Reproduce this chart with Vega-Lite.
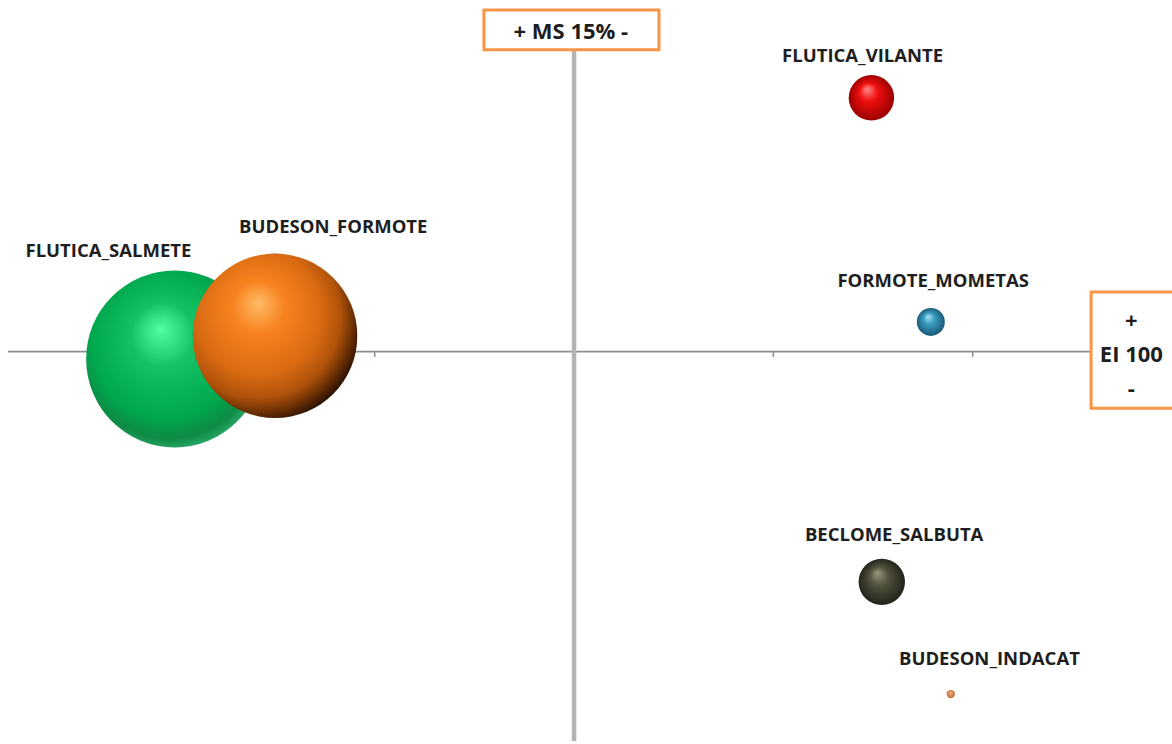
{
  "$schema": "https://vega.github.io/schema/vega-lite/v6.json",
  "autosize": {"type": "fit", "contains": "padding"},
  "width": 1172,
  "height": 744,
  "padding": 0,
  "background": "white",
  "config": {"view": {"stroke": null}},
  "datasets": {
    "bubbles": [
      {"name": "FLUTICA_SALMETE", "ms": 25.02, "ei": 98.95, "vol": 31.3, "lx": 26.68, "ly": 114.3},
      {"name": "BUDESON_FORMOTE", "ms": 22.50, "ei": 102.24, "vol": 27.06, "lx": 21.04, "ly": 117.7},
      {"name": "FLUTICA_VILANTE", "ms": 7.54, "ei": 136.09, "vol": 2.07, "lx": 7.76, "ly": 142.1},
      {"name": "FORMOTE_MOMETAS", "ms": 6.05, "ei": 104.21, "vol": 0.78, "lx": 5.99, "ly": 110.0},
      {"name": "BECLOME_SALBUTA", "ms": 7.28, "ei": 67.25, "vol": 2.16, "lx": 6.97, "ly": 73.9},
      {"name": "BUDESON_INDACAT", "ms": 5.55, "ei": 51.30, "vol": 0.069, "lx": 4.58, "ly": 56.3}
    ],
    "frames": [
      {"label": "+ MS 15% -", "x1": 17.26, "x2": 12.87, "y1": 148.58, "y2": 142.92, "tx": 15.08, "ty": 145.5},
      {"label": "+\nEI 100\n-", "x1": 2.03, "x2": -0.6, "y1": 108.46, "y2": 91.93, "tx": 1.02, "ty": 104.3}
    ],
    "lines": [
      {"part": "h", "x1": 29.2, "x2": 2.055, "y1": 100, "y2": 100},
      {"part": "v", "x1": 15, "x2": 15, "y1": 142.92, "y2": 44.62}
    ],
    "ticks": [{"t": 5}, {"t": 10}, {"t": 20}, {"t": 25}]
  },
  "layer": [
    {
      "data": {"name": "lines"},
      "transform": [{"filter": {"field": "part", "equal": "h"}}],
      "mark": {"type": "rule", "stroke": "#8e8e8e", "strokeWidth": 1.75},
      "encoding": {
        "x": {"field": "x1", "type": "quantitative", "scale": {"domain": [0, 29.4], "reverse": true, "nice": false, "zero": false}, "axis": null},
        "x2": {"field": "x2"},
        "y": {"field": "y1", "type": "quantitative", "scale": {"domain": [44.62, 150], "nice": false, "zero": false}, "axis": null},
        "y2": {"field": "y2"}
      }
    },
    {
      "data": {"name": "ticks"},
      "mark": {"type": "rule", "stroke": "#8e8e8e", "strokeWidth": 1.5},
      "encoding": {
        "x": {"field": "t", "type": "quantitative", "scale": {"domain": [0, 29.4], "reverse": true, "nice": false, "zero": false}, "axis": null},
        "y": {"datum": 100, "type": "quantitative", "scale": {"domain": [44.62, 150], "nice": false, "zero": false}, "axis": null},
        "y2": {"datum": 99.25}
      }
    },
    {
      "data": {"name": "lines"},
      "transform": [{"filter": {"field": "part", "equal": "v"}}],
      "mark": {"type": "rule", "stroke": "#b4b4b4", "strokeWidth": 4.5},
      "encoding": {
        "x": {"field": "x1", "type": "quantitative", "scale": {"domain": [0, 29.4], "reverse": true, "nice": false, "zero": false}, "axis": null},
        "x2": {"field": "x2"},
        "y": {"field": "y1", "type": "quantitative", "scale": {"domain": [44.62, 150], "nice": false, "zero": false}, "axis": null},
        "y2": {"field": "y2"}
      }
    },
    {
      "data": {"name": "bubbles"},
      "transform": [{"filter": {"field": "name", "equal": "FLUTICA_SALMETE"}}],
      "mark": {"type": "point", "shape": "circle", "filled": true, "opacity": 1, "strokeWidth": 0,
        "fill": {"gradient": "radial", "x1": 0.42, "y1": 0.33, "r1": 0, "x2": 0.47, "y2": 0.45, "r2": 0.6,
          "stops": [{"offset": 0, "color": "#55ffa0"}, {"offset": 0.3, "color": "#14c265"}, {"offset": 0.7, "color": "#00a84e"}, {"offset": 0.86, "color": "#0e8a46"}, {"offset": 0.95, "color": "#2aa868"}, {"offset": 1, "color": "#2aa868"}]}},
      "encoding": {
        "x": {"field": "ms", "type": "quantitative", "scale": {"domain": [0, 29.4], "reverse": true, "nice": false, "zero": false}, "axis": null},
        "y": {"field": "ei", "type": "quantitative", "scale": {"domain": [44.62, 150], "nice": false, "zero": false}, "axis": null},
        "size": {"field": "vol", "type": "quantitative", "scale": {"type": "linear", "domain": [0, 40], "range": [0, 40000], "zero": true}, "legend": null}
      }
    },
    {
      "data": {"name": "bubbles"},
      "transform": [{"filter": {"field": "name", "equal": "BUDESON_FORMOTE"}}],
      "mark": {"type": "point", "shape": "circle", "filled": true, "opacity": 1, "strokeWidth": 0,
        "fill": {"gradient": "radial", "x1": 0.4, "y1": 0.3, "r1": 0, "x2": 0.4, "y2": 0.4, "r2": 0.64,
          "stops": [{"offset": 0, "color": "#ffbb66"}, {"offset": 0.25, "color": "#f7821f"}, {"offset": 0.6, "color": "#d86a12"}, {"offset": 0.78, "color": "#b0520a"}, {"offset": 0.9, "color": "#6a3004"}, {"offset": 1, "color": "#2a1000"}]}},
      "encoding": {
        "x": {"field": "ms", "type": "quantitative", "scale": {"domain": [0, 29.4], "reverse": true, "nice": false, "zero": false}, "axis": null},
        "y": {"field": "ei", "type": "quantitative", "scale": {"domain": [44.62, 150], "nice": false, "zero": false}, "axis": null},
        "size": {"field": "vol", "type": "quantitative", "scale": {"type": "linear", "domain": [0, 40], "range": [0, 40000], "zero": true}, "legend": null}
      }
    },
    {
      "data": {"name": "bubbles"},
      "transform": [{"filter": {"field": "name", "equal": "FLUTICA_VILANTE"}}],
      "mark": {"type": "point", "shape": "circle", "filled": true, "opacity": 1, "strokeWidth": 0,
        "fill": {"gradient": "radial", "x1": 0.4, "y1": 0.3, "r1": 0, "x2": 0.5, "y2": 0.5, "r2": 0.5,
          "stops": [{"offset": 0, "color": "#ff8a8a"}, {"offset": 0.4, "color": "#f01010"}, {"offset": 1, "color": "#9a0000"}]}},
      "encoding": {
        "x": {"field": "ms", "type": "quantitative", "scale": {"domain": [0, 29.4], "reverse": true, "nice": false, "zero": false}, "axis": null},
        "y": {"field": "ei", "type": "quantitative", "scale": {"domain": [44.62, 150], "nice": false, "zero": false}, "axis": null},
        "size": {"field": "vol", "type": "quantitative", "scale": {"type": "linear", "domain": [0, 40], "range": [0, 40000], "zero": true}, "legend": null}
      }
    },
    {
      "data": {"name": "bubbles"},
      "transform": [{"filter": {"field": "name", "equal": "FORMOTE_MOMETAS"}}],
      "mark": {"type": "point", "shape": "circle", "filled": true, "opacity": 1, "strokeWidth": 0,
        "fill": {"gradient": "radial", "x1": 0.4, "y1": 0.3, "r1": 0, "x2": 0.5, "y2": 0.5, "r2": 0.5,
          "stops": [{"offset": 0, "color": "#a8e4f4"}, {"offset": 0.4, "color": "#3a9cc0"}, {"offset": 1, "color": "#1a5a78"}]}},
      "encoding": {
        "x": {"field": "ms", "type": "quantitative", "scale": {"domain": [0, 29.4], "reverse": true, "nice": false, "zero": false}, "axis": null},
        "y": {"field": "ei", "type": "quantitative", "scale": {"domain": [44.62, 150], "nice": false, "zero": false}, "axis": null},
        "size": {"field": "vol", "type": "quantitative", "scale": {"type": "linear", "domain": [0, 40], "range": [0, 40000], "zero": true}, "legend": null}
      }
    },
    {
      "data": {"name": "bubbles"},
      "transform": [{"filter": {"field": "name", "equal": "BECLOME_SALBUTA"}}],
      "mark": {"type": "point", "shape": "circle", "filled": true, "opacity": 1, "strokeWidth": 0,
        "fill": {"gradient": "radial", "x1": 0.4, "y1": 0.3, "r1": 0, "x2": 0.5, "y2": 0.5, "r2": 0.5,
          "stops": [{"offset": 0, "color": "#9a9a80"}, {"offset": 0.4, "color": "#52523e"}, {"offset": 1, "color": "#23231a"}]}},
      "encoding": {
        "x": {"field": "ms", "type": "quantitative", "scale": {"domain": [0, 29.4], "reverse": true, "nice": false, "zero": false}, "axis": null},
        "y": {"field": "ei", "type": "quantitative", "scale": {"domain": [44.62, 150], "nice": false, "zero": false}, "axis": null},
        "size": {"field": "vol", "type": "quantitative", "scale": {"type": "linear", "domain": [0, 40], "range": [0, 40000], "zero": true}, "legend": null}
      }
    },
    {
      "data": {"name": "bubbles"},
      "transform": [{"filter": {"field": "name", "equal": "BUDESON_INDACAT"}}],
      "mark": {"type": "point", "shape": "circle", "filled": true, "opacity": 1, "strokeWidth": 0,
        "fill": {"gradient": "radial", "x1": 0.4, "y1": 0.3, "r1": 0, "x2": 0.5, "y2": 0.5, "r2": 0.5,
          "stops": [{"offset": 0, "color": "#f4b080"}, {"offset": 1, "color": "#c07038"}]}},
      "encoding": {
        "x": {"field": "ms", "type": "quantitative", "scale": {"domain": [0, 29.4], "reverse": true, "nice": false, "zero": false}, "axis": null},
        "y": {"field": "ei", "type": "quantitative", "scale": {"domain": [44.62, 150], "nice": false, "zero": false}, "axis": null},
        "size": {"field": "vol", "type": "quantitative", "scale": {"type": "linear", "domain": [0, 40], "range": [0, 40000], "zero": true}, "legend": null}
      }
    },
    {
      "data": {"name": "bubbles"},
      "mark": {"type": "text", "font": "Open Sans", "fontWeight": "bold", "fontSize": 18.5, "fill": "#1e1e1e", "align": "center", "baseline": "middle"},
      "encoding": {
        "x": {"field": "lx", "type": "quantitative", "scale": {"domain": [0, 29.4], "reverse": true, "nice": false, "zero": false}, "axis": null},
        "y": {"field": "ly", "type": "quantitative", "scale": {"domain": [44.62, 150], "nice": false, "zero": false}, "axis": null},
        "text": {"field": "name"}
      }
    },
    {
      "data": {"name": "frames"},
      "mark": {"type": "rect", "fill": "white", "stroke": "#f79646", "strokeWidth": 3, "clip": true},
      "encoding": {
        "x": {"field": "x1", "type": "quantitative", "scale": {"domain": [0, 29.4], "reverse": true, "nice": false, "zero": false}, "axis": null},
        "x2": {"field": "x2"},
        "y": {"field": "y1", "type": "quantitative", "scale": {"domain": [44.62, 150], "nice": false, "zero": false}, "axis": null},
        "y2": {"field": "y2"}
      }
    },
    {
      "data": {"name": "frames"},
      "mark": {"type": "text", "font": "Open Sans", "fontWeight": "bold", "fontSize": 22, "fill": "#1e1e1e", "align": "center", "baseline": "middle", "lineBreak": "\n", "lineHeight": 34},
      "encoding": {
        "x": {"field": "tx", "type": "quantitative", "scale": {"domain": [0, 29.4], "reverse": true, "nice": false, "zero": false}, "axis": null},
        "y": {"field": "ty", "type": "quantitative", "scale": {"domain": [44.62, 150], "nice": false, "zero": false}, "axis": null},
        "text": {"field": "label"}
      }
    }
  ]
}
